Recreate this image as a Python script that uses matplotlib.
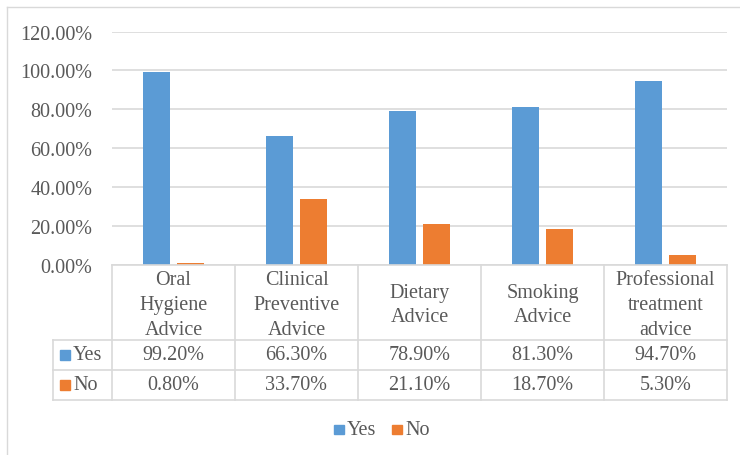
import numpy as np
import matplotlib.pyplot as plt
from matplotlib.lines import Line2D
from matplotlib.patches import Rectangle

categories = ["Oral\nHygiene\nAdvice", "Clinical\nPreventive\nAdvice", "Dietary\nAdvice",
              "Smoking\nAdvice", "Professional\ntreatment\nadvice"]
yes_vals = [99.20, 66.30, 78.90, 81.30, 94.70]
no_vals = [0.80, 33.70, 21.10, 18.70, 5.30]
series = ["Yes", "No"]
colors = ["#5B9BD5", "#ED7D31"]
yticks = [0, 20, 40, 60, 80, 100, 120]

W, H = 740, 456
plt.rcParams['font.family'] = ['Liberation Serif', 'DejaVu Serif']
txt = '#595959'
grid = '#d9d9d9'
fs = 14.5

fig = plt.figure(figsize=(W / 100, H / 100), dpi=100)

def fx(px):
    return px / W

def fy(py):
    return 1 - py / H

# plot area in pixels
L, R, T, B = 112, 727, 32.5, 266
ax = fig.add_axes([fx(L), fy(B), fx(R - L), (B - T) / H])

x = np.arange(len(categories))
bw = 0.22
off = 0.142
ax.bar(x - off, yes_vals, bw, color=colors[0], zorder=3)
ax.bar(x + off, no_vals, bw, color=colors[1], zorder=3)

ax.set_xlim(-0.5, len(categories) - 0.5)
ax.set_ylim(0, 120)
ax.set_yticks(yticks)
ax.set_yticklabels([f"{v:.2f}%" for v in yticks], fontsize=fs, color=txt)
ax.tick_params(axis='y', length=0, pad=14)
ax.set_xticks([])
ax.yaxis.grid(True, color=grid, linewidth=1.2, zorder=0)
for s in ax.spines.values():
    s.set_visible(False)

# outer chart border (left and top visible)
fig.add_artist(Line2D([fx(7), fx(7)], [fy(8), fy(H)], color=grid, lw=1))
fig.add_artist(Line2D([fx(7), fx(W)], [fy(8), fy(8)], color=grid, lw=1))

# data table
col_w = (R - L) / len(categories)
rows_y = [266, 341, 371, 401]
lab_l = 53
tl = dict(color=grid, lw=1.2)
fig.add_artist(Line2D([fx(L), fx(R)], [fy(rows_y[0])] * 2, **tl))
for yy in rows_y[1:]:
    fig.add_artist(Line2D([fx(lab_l), fx(R)], [fy(yy)] * 2, **tl))
for i in range(len(categories) + 1):
    xx = L + i * col_w
    fig.add_artist(Line2D([fx(xx)] * 2, [fy(rows_y[0]), fy(rows_y[-1])], **tl))
fig.add_artist(Line2D([fx(lab_l)] * 2, [fy(rows_y[1]), fy(rows_y[-1])], **tl))

for i, cat in enumerate(categories):
    cx = L + (i + 0.5) * col_w
    fig.text(fx(cx), fy((rows_y[0] + rows_y[1]) / 2 + 2), cat, ha='center', va='center',
             fontsize=fs, color=txt, linespacing=1.4)
    for r, vals in enumerate([yes_vals, no_vals]):
        cy = (rows_y[r + 1] + rows_y[r + 2]) / 2
        fig.text(fx(cx), fy(cy), f"{vals[i]:.2f}%", ha='center', va='center',
                 fontsize=fs, color=txt)

for r, name in enumerate(series):
    cy = (rows_y[r + 1] + rows_y[r + 2]) / 2
    fig.add_artist(Rectangle((fx(60), fy(cy + 5)), fx(10), 10 / H, color=colors[r]))
    fig.text(fx(73), fy(cy), name, ha='left', va='center', fontsize=fs, color=txt)

# legend
leg_y = 430.5
for name, c, sx in zip(series, colors, [334, 392]):
    fig.add_artist(Rectangle((fx(sx), fy(leg_y + 4.5)), fx(9.5), 9.5 / H, color=c))
    fig.text(fx(sx + 13), fy(leg_y), name, ha='left', va='center', fontsize=fs, color=txt)

fig.savefig("out.png", dpi=100)
